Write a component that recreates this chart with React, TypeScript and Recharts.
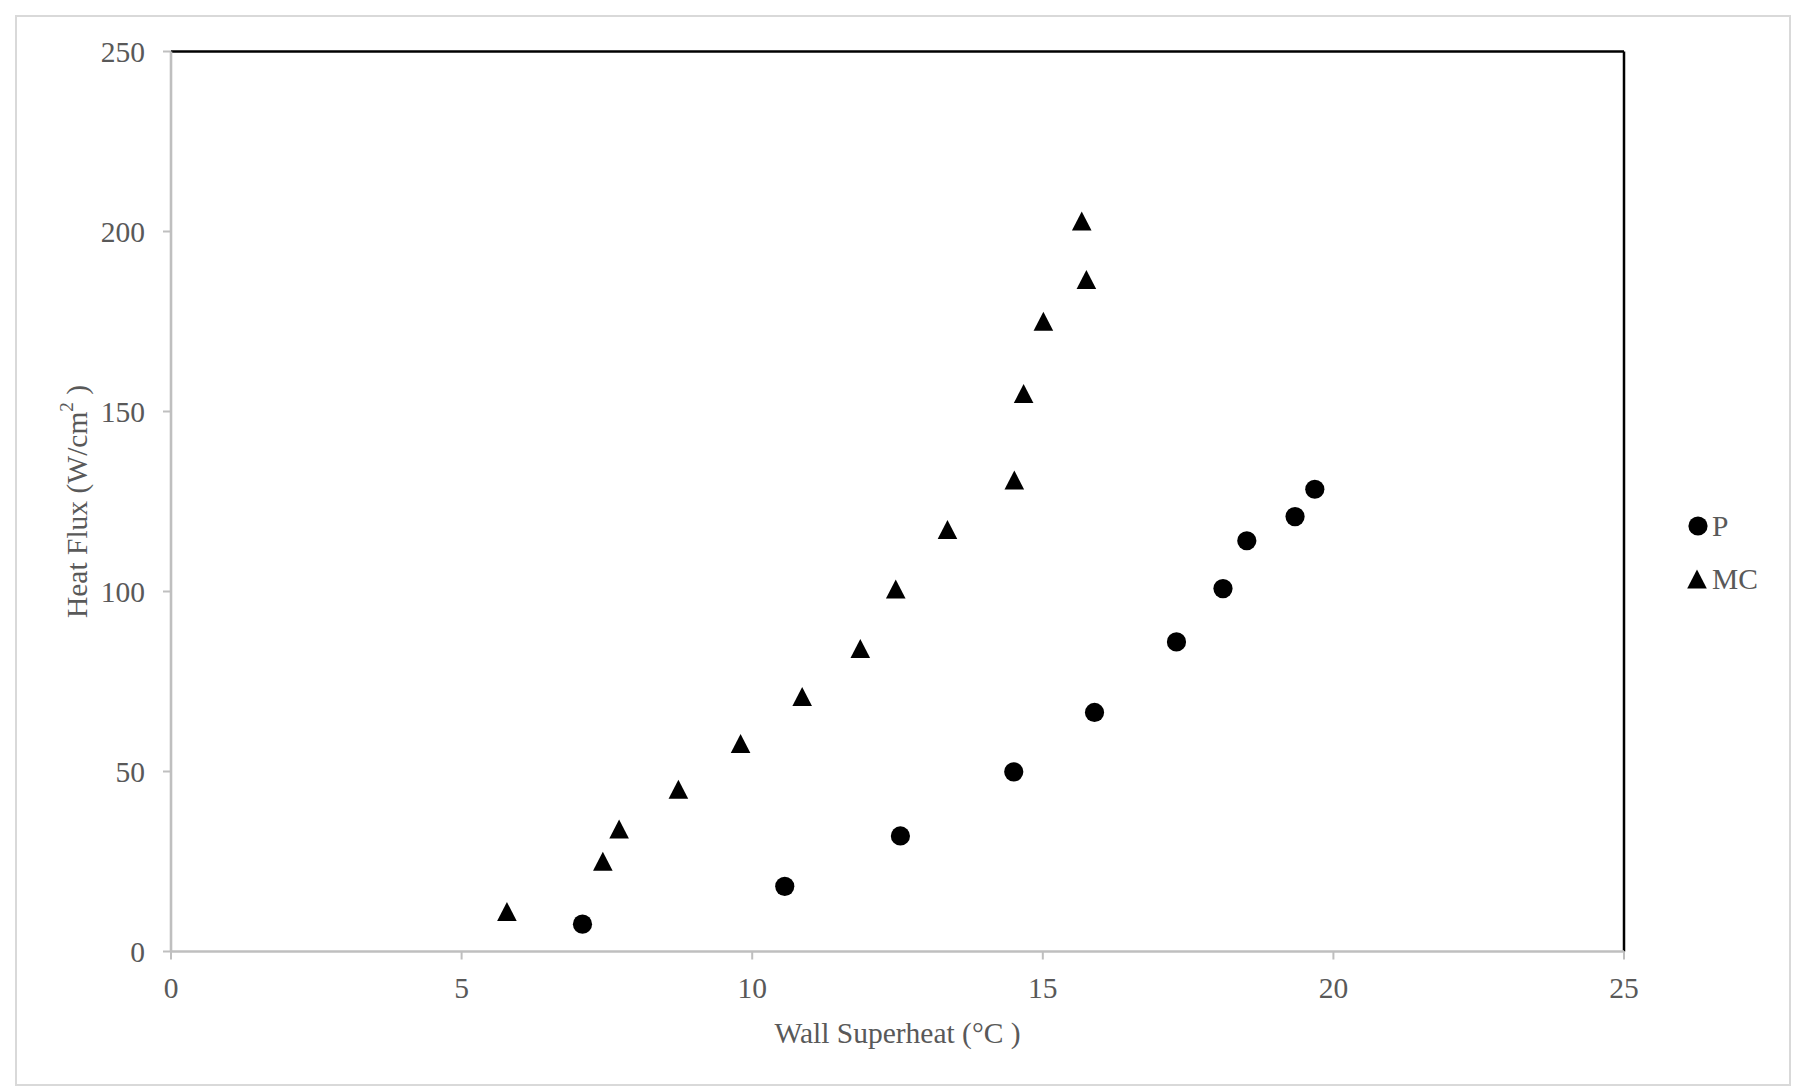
import {
  ScatterChart,
  Scatter,
  XAxis,
  YAxis,
  ReferenceLine,
  Legend,
  Label,
} from "recharts";

// Wall superheat (°C) vs heat flux (W/cm²)
const P_SUPERHEAT = [7.08, 10.56, 12.55, 14.5, 15.89, 17.3, 18.1, 18.51, 19.34, 19.68];
const P_FLUX = [7.6, 18.1, 32.1, 49.9, 66.4, 86.0, 100.8, 114.1, 120.8, 128.4];

const MC_SUPERHEAT = [
  5.78, 7.43, 7.71, 8.73, 9.8, 10.86, 11.86, 12.47, 13.36, 14.51, 14.67, 15.01, 15.75, 15.67,
];
const MC_FLUX = [
  11.1, 25.1, 34.0, 45.1, 57.8, 70.8, 84.2, 100.7, 117.2, 131.0, 155.0, 175.1, 186.7, 202.9,
];

const X_TICKS = [0, 5, 10, 15, 20, 25];
const Y_TICKS = [0, 50, 100, 150, 200, 250];

const SERIES_NAMES = ["P", "MC"];

const pData = P_SUPERHEAT.map((x, i) => ({ x, y: P_FLUX[i] }));
const mcData = MC_SUPERHEAT.map((x, i) => ({ x, y: MC_FLUX[i] }));

const FONT = '"Liberation Serif", "Times New Roman", serif';
const TEXT = "#595959";
const AXIS = "#bfbfbf";
const FONT_SIZE = 29.5;

const W = 1793;
const H = 1088;

function CircleMark(props: { cx?: number; cy?: number }) {
  const { cx = 0, cy = 0 } = props;
  return <circle cx={cx} cy={cy} r={9.6} fill="#000" />;
}

function TriangleMark(props: { cx?: number; cy?: number }) {
  const { cx = 0, cy = 0 } = props;
  const pts = `${cx},${cy - 9.5} ${cx - 9.8},${cy + 9.5} ${cx + 9.8},${cy + 9.5}`;
  return <polygon points={pts} fill="#000" />;
}

function LegendBox() {
  return (
    <svg width={110} height={90} style={{ overflow: "visible", display: "block" }}>
      {SERIES_NAMES.map((name, i) => {
        const cy = 21 + i * 53;
        return (
          <g key={name}>
            {i === 0 ? <CircleMark cx={12} cy={cy} /> : <TriangleMark cx={11} cy={cy} />}
            <text
              x={26}
              y={cy + 10}
              fill={TEXT}
              fontFamily={FONT}
              fontSize={FONT_SIZE}
            >
              {name}
            </text>
          </g>
        );
      })}
    </svg>
  );
}

export default function App() {
  return (
    <div
      style={{
        position: "absolute",
        left: 0,
        top: 0,
        width: W,
        height: H,
        background: "#fff",
      }}
    >
      <div
        style={{
          position: "absolute",
          left: 15,
          top: 15,
          width: W - 17,
          height: H - 17,
          border: "2px solid #d9d9d9",
          boxSizing: "border-box",
        }}
      />
      <div style={{ position: "absolute", left: 0, top: 0 }}>
        <ScatterChart
          width={W}
          height={H}
          margin={{ top: 51.5, right: 169, bottom: 76.5, left: 61 }}
        >
          <XAxis
            type="number"
            dataKey="x"
            domain={[0, 25]}
            ticks={X_TICKS}
            height={60}
            stroke={AXIS}
            axisLine={{ stroke: AXIS, strokeWidth: 2.6 }}
            tickLine={{ stroke: AXIS, strokeWidth: 2 }}
            tickSize={8}
            tickMargin={18}
            tick={{ fill: TEXT, fontSize: FONT_SIZE, fontFamily: FONT }}
          >
            <Label
              content={({ viewBox }: any) => (
                <text
                  x={viewBox.x + viewBox.width / 2}
                  y={viewBox.y + 91}
                  textAnchor="middle"
                  fill={TEXT}
                  fontFamily={FONT}
                  fontSize={FONT_SIZE}
                >
                  Wall Superheat (°C )
                </text>
              )}
            />
          </XAxis>
          <YAxis
            type="number"
            dataKey="y"
            domain={[0, 250]}
            ticks={Y_TICKS}
            width={110}
            stroke={AXIS}
            axisLine={{ stroke: AXIS, strokeWidth: 2.6 }}
            tickLine={{ stroke: AXIS, strokeWidth: 2 }}
            tickSize={8}
            tickMargin={18}
            tick={{ fill: TEXT, fontSize: FONT_SIZE, fontFamily: FONT }}
          >
            <Label
              content={({ viewBox }: any) => {
                const cx = 77;
                const cy = viewBox.y + viewBox.height / 2;
                return (
                  <text
                    x={cx}
                    y={cy}
                    transform={`rotate(-90 ${cx} ${cy})`}
                    textAnchor="middle"
                    dominantBaseline="central"
                    fill={TEXT}
                    fontFamily={FONT}
                    fontSize={FONT_SIZE}
                  >
                    Heat Flux (W/cm
                    <tspan fontSize={19} dy={-11}>
                      2
                    </tspan>
                    <tspan dy={11}> )</tspan>
                  </text>
                );
              }}
            />
          </YAxis>
          <ReferenceLine y={250} stroke="#000" strokeWidth={2.5} ifOverflow="extendDomain" />
          <ReferenceLine x={25} stroke="#000" strokeWidth={2.5} ifOverflow="extendDomain" />
          <Scatter
            name="P"
            data={pData}
            fill="#000"
            shape={<CircleMark />}
            isAnimationActive={false}
          />
          <Scatter
            name="MC"
            data={mcData}
            fill="#000"
            shape={<TriangleMark />}
            isAnimationActive={false}
          />
          <Legend
            content={() => <LegendBox />}
            wrapperStyle={{
              position: "absolute",
              left: 1686,
              top: 505,
              width: 0,
              height: 0,
              overflow: "visible",
            }}
          />
        </ScatterChart>
      </div>
    </div>
  );
}
